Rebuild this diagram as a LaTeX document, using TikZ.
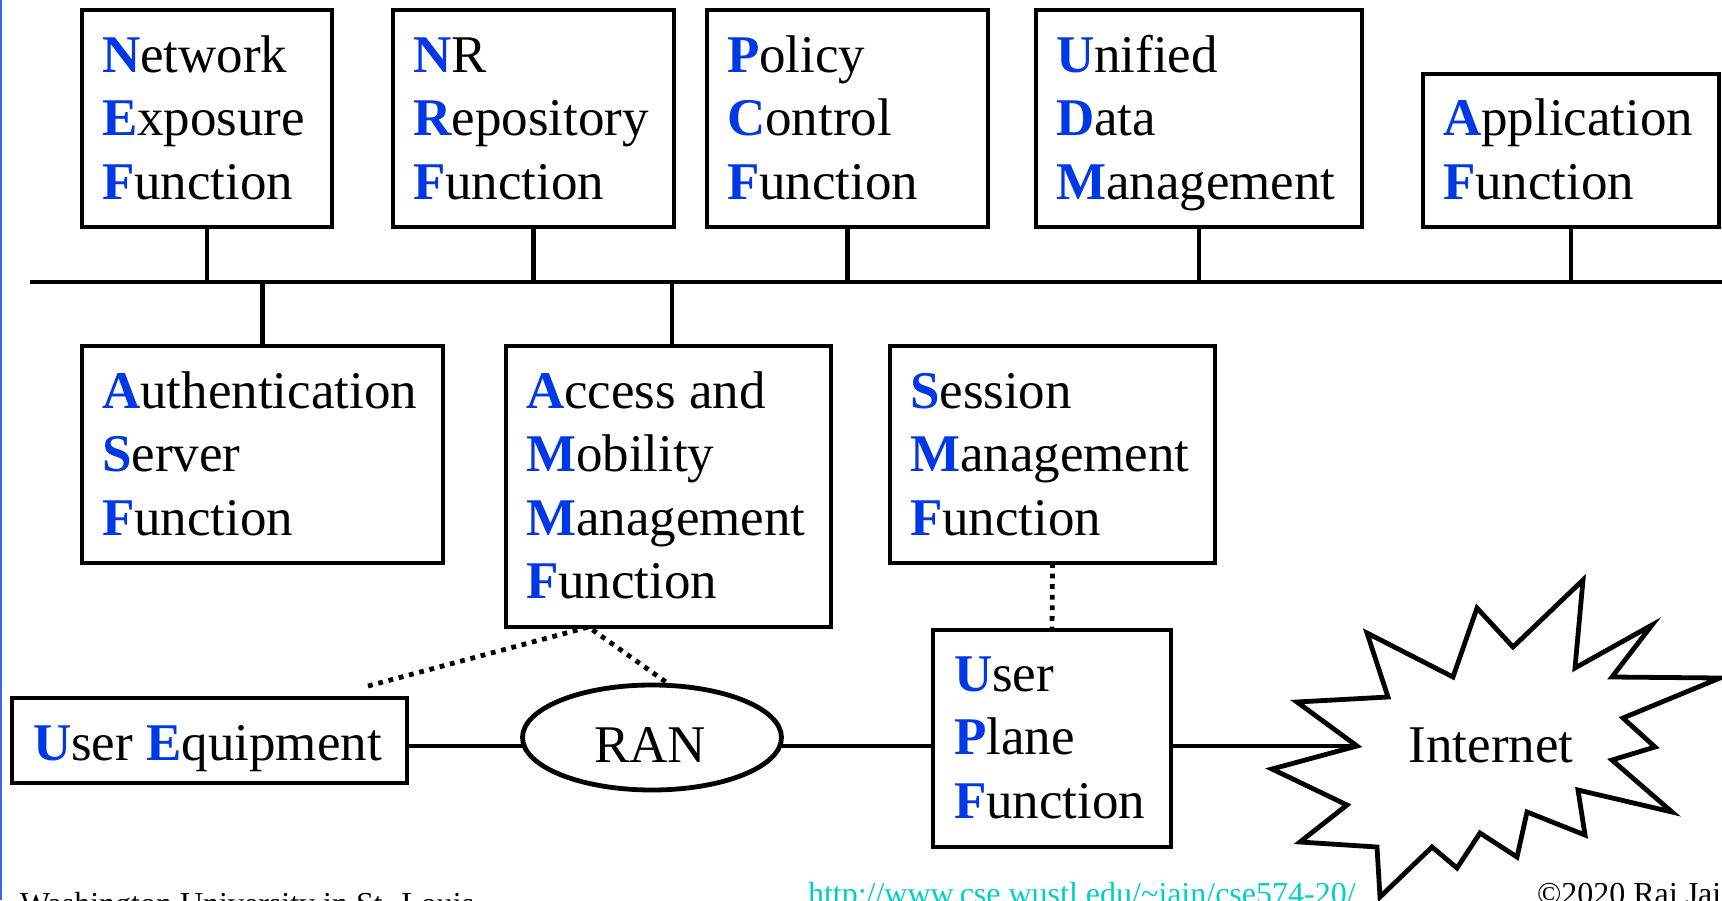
\documentclass[tikz,border=0pt]{standalone}
\usepackage{fontspec}
\setmainfont{Liberation Serif}
\usetikzlibrary{shapes.geometric}
\definecolor{nfblue}{RGB}{0,56,230}
\definecolor{urlcyan}{RGB}{0,208,196}
\definecolor{edgeblue}{RGB}{60,100,240}
\newcommand\Bfirst[1]{\textcolor{nfblue}{\textbf{#1}}}
\newcommand\Lines[1]{\parbox[t]{600pt}{\raggedright #1}}
\begin{document}
\begin{tikzpicture}[x=1pt,y=-1pt,
  bx/.style={draw, line width=4.8pt, inner sep=0pt, outer sep=0pt, anchor=north west},
  lbl/.style={anchor=base west, inner sep=0pt, outer sep=0pt, font=\fontsize{53}{63.5}\selectfont},
  clbl/.style={anchor=base, inner sep=0pt, outer sep=0pt, font=\fontsize{53}{63.5}\selectfont},
  foot/.style={anchor=base west, inner sep=0pt, outer sep=0pt, font=\fontsize{32}{38}\selectfont},
  ln/.style={line width=4.8pt},
  dotl/.style={line width=4.8pt, dash pattern=on 4.8pt off 5.8pt}]
\useasboundingbox (0,0) rectangle (1722,900);
\fill[white] (0,0) rectangle (1722,900);
\draw[edgeblue, line width=1.6pt] (0.8,0) -- (0.8,900);

% top row boxes
\node[bx, minimum width=250, minimum height=217] (nef) at (82,10) {};
\node[bx, minimum width=281, minimum height=217] (nrf) at (393,10) {};
\node[bx, minimum width=281, minimum height=217] (pcf) at (707,10) {};
\node[bx, minimum width=326, minimum height=217] (udm) at (1036,10) {};
\node[bx, minimum width=296, minimum height=153] (af) at (1423,74) {};
% second row boxes
\node[bx, minimum width=361, minimum height=217] (asf) at (82,346) {};
\node[bx, minimum width=325, minimum height=281] (amf) at (506,346) {};
\node[bx, minimum width=325, minimum height=217] (smf) at (890,346) {};
% bottom row
\node[bx, minimum width=238, minimum height=217] (upf) at (933,630) {};
\node[bx, minimum width=395, minimum height=85] (ue) at (12,698) {};
\node[draw, ellipse, line width=4.8pt, inner sep=0pt, outer sep=0pt,
      minimum width=259, minimum height=105] (ran) at (652,737.5) {};

% texts
\node[lbl] (nefT) at (102,72) {\Lines{\Bfirst{N}etwork\\\Bfirst{E}xposure\\\Bfirst{F}unction}};
\node[lbl] (nrfT) at (413,72) {\Lines{\Bfirst{N}R\\\Bfirst{R}epository\\\Bfirst{F}unction}};
\node[lbl] (pcfT) at (727,72) {\Lines{\Bfirst{P}olicy\\\Bfirst{C}ontrol\\\Bfirst{F}unction}};
\node[lbl] (udmT) at (1056,72) {\Lines{\Bfirst{U}nified\\\Bfirst{D}ata\\\Bfirst{M}anagement}};
\node[lbl] (afT) at (1443,135.5) {\Lines{\Bfirst{A}pplication\\\Bfirst{F}unction}};
\node[lbl] (asfT) at (102,408) {\Lines{\Bfirst{A}uthentication\\\Bfirst{S}erver\\\Bfirst{F}unction}};
\node[lbl] (amfT) at (526,408) {\Lines{\Bfirst{A}ccess and\\\Bfirst{M}obility\\\Bfirst{M}anagement\\\Bfirst{F}unction}};
\node[lbl] (smfT) at (910,408) {\Lines{\Bfirst{S}ession\\\Bfirst{M}anagement\\\Bfirst{F}unction}};
\node[lbl] (upfT) at (954,691) {\Lines{\Bfirst{U}ser\\\Bfirst{P}lane\\\Bfirst{F}unction}};
\node[lbl] (ueT) at (33,760) {\Bfirst{U}ser \Bfirst{E}quipment};
\node[clbl] (ranT) at (650,762.5) {RAN};
\node[clbl] (inetT) at (1491,762.5) {Internet};

% bus
\coordinate (busL) at (30,282);
\coordinate (busR) at (1722,282);
\draw[ln] (busL) -- (busR);
\draw[ln] (nef.south) -- (nef.south |- busL);
\draw[ln] (nrf.south) -- (nrf.south |- busL);
\draw[ln] (pcf.south) -- (pcf.south |- busL);
\draw[ln] (udm.south) -- (udm.south |- busL);
\draw[ln] (af.south) -- (af.south |- busL);
\draw[ln] (asf.north) -- (asf.north |- busL);
\draw[ln] ([xshift=3.5pt]amf.north) -- ([xshift=3.5pt]amf.north |- busL);

% data path
\coordinate (mid) at (0,746);
\coordinate (inet) at (1357,746);
\draw[ln] (ue.east |- mid) -- (ran.west |- mid);
\draw[ln] (ran.east |- mid) -- (upf.west |- mid);
\draw[ln] (upf.east |- mid) -- (inet);

% dotted control links
\coordinate (ueDot) at (368,686);
\draw[dotl] (ueDot) -- ([xshift=-80pt]amf.south) -- (ran.70);
\draw[dotl] (smf.south) -- (upf.north);

% Internet starburst
\draw[ln] (1367,633) -- (1388,697) -- (1297,702) -- (inet) -- (1272,769) -- (1347,805)
  -- (1300,842) -- (1377,847) -- (1380,897) -- (1432,847) -- (1457,868) -- (1480,833)
  -- (1517,857) -- (1527,812) -- (1585,835) -- (1578,790) -- (1672,812) -- (1612,760)
  -- (1655,747) -- (1623,718) -- (1720,678) -- (1612,677) -- (1652,625) -- (1575,668)
  -- (1583,580) -- (1513,647) -- (1477,608) -- (1453,677) -- cycle;

% footer (cut off by the lower edge, as in the reference)
\node[foot] (ftL) at (20,914) {Washington University in St. Louis};
\node[foot, text=urlcyan] (ftM) at (808,904.5) {http://www.cse.wustl.edu/\textasciitilde jain/cse574-20/};
\node[foot] (ftR) at (1537,904.5) {\textcopyright 2020 Raj Jain};
\end{tikzpicture}
\end{document}
